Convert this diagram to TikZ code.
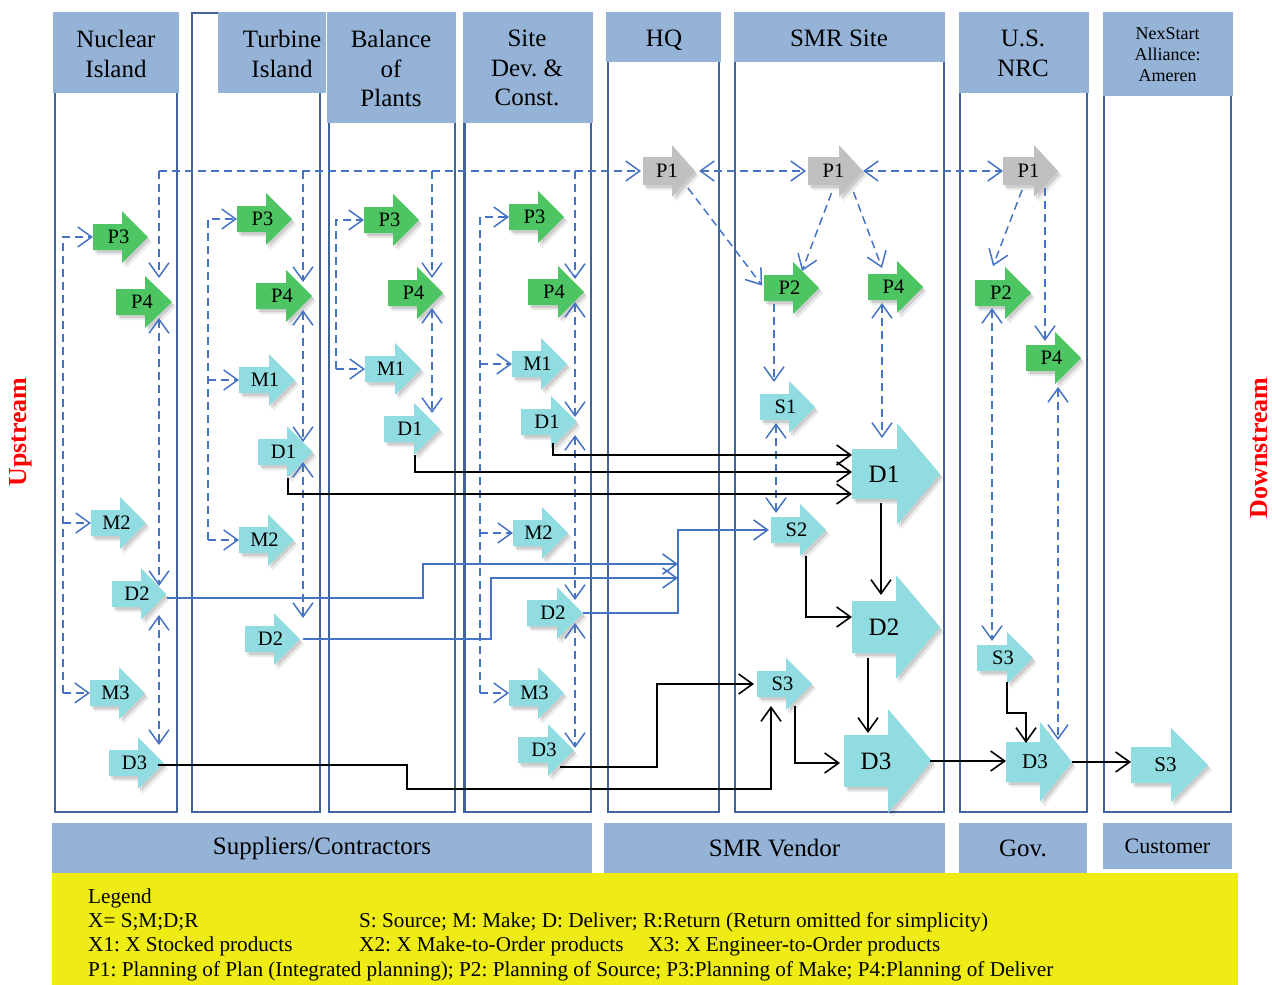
\documentclass[tikz,border=0pt]{standalone}
\usepackage{fontspec}
\setmainfont{Liberation Serif}
\usetikzlibrary{arrows.meta,calc}
\frenchspacing
\definecolor{lanec}{RGB}{65,100,155}
\definecolor{hdrc}{RGB}{149,179,215}
\definecolor{lblue}{RGB}{70,115,195}
\definecolor{agreen}{RGB}{77,197,99}
\definecolor{acyan}{RGB}{145,220,225}
\definecolor{agray}{RGB}{192,192,192}
\definecolor{legy}{RGB}{238,236,20}
\definecolor{ured}{RGB}{255,0,0}
% #1 name, #2 x left, #3 y centre, #4 length, #5 body half height, #6 head half height, #7 head length, #8 class, #9 label
\newcommand\blkarrow[9]{%
 \fill[black,opacity=0.08,shift={(4,5)}] (#2,{#3-#5}) -- ({#2+#4-#7},{#3-#5}) -- ({#2+#4-#7},{#3-#6}) -- ({#2+#4},#3) -- ({#2+#4-#7},{#3+#6}) -- ({#2+#4-#7},{#3+#5}) -- (#2,{#3+#5}) -- cycle;
 \fill[black,opacity=0.12,shift={(2,3)}] (#2,{#3-#5}) -- ({#2+#4-#7},{#3-#5}) -- ({#2+#4-#7},{#3-#6}) -- ({#2+#4},#3) -- ({#2+#4-#7},{#3+#6}) -- ({#2+#4-#7},{#3+#5}) -- (#2,{#3+#5}) -- cycle;
 \fill[#8] (#2,{#3-#5}) -- ({#2+#4-#7},{#3-#5}) -- ({#2+#4-#7},{#3-#6}) -- ({#2+#4},#3) -- ({#2+#4-#7},{#3+#6}) -- ({#2+#4-#7},{#3+#5}) -- (#2,{#3+#5}) -- cycle;
 \node[abox,minimum width=#4,minimum height={2*#6}] (#1) at ({#2+#4/2},#3) {};
 \node[#8 lab] at (#1.center) {#9};
}
\begin{document}
\begin{tikzpicture}[x=1pt,y=-1pt,
  >={Straight Barb[length=14pt,width=20pt]},
  lane/.style={draw=lanec,line width=2.5pt},
  hdr/.style={fill=hdrc,draw=none,inner sep=0pt,outer sep=0pt,anchor=north west},
  htxt/.style={inner sep=0pt,anchor=north,align=center,font=\fontsize{25}{29.5}\selectfont},
  grp/.style={fill=hdrc,draw=none,inner sep=0pt,outer sep=0pt,anchor=north west,font=\fontsize{25}{30}\selectfont},
  abox/.style={rectangle,draw=none,inner sep=0pt,outer sep=0pt},
  ag/.style={fill=agreen}, ag lab/.style={font=\fontsize{20.5}{24}\selectfont,xshift=-2pt},
  ac/.style={fill=acyan}, ac lab/.style={font=\fontsize{20.5}{24}\selectfont,xshift=-2pt},
  ay/.style={fill=agray}, ay lab/.style={font=\fontsize{20.5}{24}\selectfont,xshift=-2pt},
  acb/.style={fill=acyan}, acb lab/.style={font=\fontsize{25}{30}\selectfont,xshift=-12pt},
  acm/.style={fill=acyan}, acm lab/.style={font=\fontsize{21}{25}\selectfont,xshift=-4pt},
  dsh/.style={draw=lblue,line width=1.5pt,dash pattern=on 8pt off 5pt},
  bk/.style={draw=black,line width=1.6pt},
  bl/.style={draw=lblue,line width=1.6pt},
  legt/.style={inner sep=0pt,anchor=base west,font=\fontsize{21.2}{24}\selectfont},
  updn/.style={text=ured,font=\fontsize{26}{30}\selectfont\bfseries,rotate=90,inner sep=0pt}]
\useasboundingbox (0,0) rectangle (1272,985);

% ---------- lanes ----------
\draw[lane] (55,13) rectangle (177,812);
\draw[lane] (192,13) rectangle (320,812);
\draw[lane] (329,13) rectangle (455,812);
\draw[lane] (464.5,13) rectangle (591,812);
\draw[lane] (608,13) rectangle (719,812);
\draw[lane] (735,13) rectangle (944,812);
\draw[lane] (960,13) rectangle (1087,812);
\draw[lane] (1104,13) rectangle (1231,812);

% ---------- headers ----------
\node[hdr,minimum width=126,minimum height=81] (hNuc) at (53,12) {};
\node[hdr,minimum width=108,minimum height=81] (hTur) at (218,12) {};
\node[hdr,minimum width=129,minimum height=111] (hBal) at (327,12) {};
\node[hdr,minimum width=130,minimum height=111] (hSite) at (463,12) {};
\node[hdr,minimum width=115,minimum height=50] (hHQ) at (606,12) {};
\node[hdr,minimum width=211,minimum height=50] (hSMR) at (734,12) {};
\node[hdr,minimum width=130,minimum height=81] (hNRC) at (959,12) {};
\node[hdr,minimum width=130,minimum height=84] (hNex) at (1103,12) {};
\node[htxt] (tNuc) at (116,30) {Nuclear\\Island};
\node[htxt] (tTur) at (282,30) {Turbine\\Island};
\node[htxt] (tBal) at (391,30) {Balance\\of\\Plants};
\node[htxt] (tSite) at (527,30) {Site\\Dev. \&\\Const.};
\node[htxt] (tHQ) at (664,30) {HQ};
\node[htxt] (tSMR) at (839,30) {SMR Site};
\node[htxt] (tNRC) at (1023,30) {U.S.\\NRC};
\node[htxt,font=\fontsize{18}{21}\selectfont] (tNex) at (1167.5,27) {NexStart\\Alliance:\\Ameren};

% ---------- group labels ----------
\node[grp,minimum width=540,minimum height=50] (gSup) at (52,823) {Suppliers/Contractors};
\node[grp,minimum width=341,minimum height=50] (gVen) at (604,823) {SMR Vendor};
\node[grp,minimum width=128,minimum height=50] (gGov) at (959,823) {Gov.};
\node[grp,minimum width=129,minimum height=46,font=\fontsize{22}{26}\selectfont] (gCus) at (1103,823) {Customer};

% ---------- legend ----------
\node[fill=legy,draw=none,inner sep=0pt,anchor=north west,minimum width=1186,minimum height=112] (leg) at (52,873) {};
\node[legt] (l1) at (88,903) {Legend};
\node[legt] (l2) at (88,927.5) {X= S;M;D;R};
\node[legt] (l2b) at (359,927.5) {S: Source; M: Make; D: Deliver; R:Return (Return omitted for simplicity)};
\node[legt] (l3) at (88,951.8) {X1: X Stocked products};
\node[legt] (l3b) at (359,951.8) {X2: X Make-to-Order products};
\node[legt] (l3c) at (648,951.8) {X3: X Engineer-to-Order products};
\node[legt] (l4) at (88,976) {P1: Planning of Plan (Integrated planning); P2: Planning of Source; P3:Planning of Make; P4:Planning of Deliver};

% ---------- side labels ----------
\node[updn] (up) at (21,432) {Upstream};
\node[updn] (down) at (1259,448) {Downstream};

% ---------- block arrows ----------
\blkarrow{nP3}{93}{237}{55}{13}{26}{26}{ag}{P3}
\blkarrow{nP4}{116}{302}{56}{13}{26}{27}{ag}{P4}
\blkarrow{nM2}{91}{523}{55}{13}{26}{26}{ac}{M2}
\blkarrow{nD2}{112}{594}{54}{13}{26}{25}{ac}{D2}
\blkarrow{nM3}{90}{693}{55}{13}{26}{26}{ac}{M3}
\blkarrow{nD3}{109}{763}{55}{13}{26}{26}{ac}{D3}
\blkarrow{tP3}{237}{219}{55}{13}{26}{26}{ag}{P3}
\blkarrow{tP4}{256}{296}{56}{13}{26}{26}{ag}{P4}
\blkarrow{tM1}{239}{380}{56}{13}{26}{26}{ac}{M1}
\blkarrow{tD1}{258}{452}{55}{13}{26}{26}{ac}{D1}
\blkarrow{tM2}{239}{540}{55}{13}{26}{26}{ac}{M2}
\blkarrow{tD2}{245}{639}{55}{13}{26}{26}{ac}{D2}
\blkarrow{bP3}{364}{220}{55}{13}{26}{26}{ag}{P3}
\blkarrow{bP4}{388}{293}{55}{13}{26}{26}{ag}{P4}
\blkarrow{bM1}{365}{369}{56}{13}{26}{26}{ac}{M1}
\blkarrow{bD1}{384}{429}{56}{13}{26}{26}{ac}{D1}
\blkarrow{sP3}{509}{217}{55}{13}{26}{26}{ag}{P3}
\blkarrow{sP4}{528}{292}{56}{13}{26}{26}{ag}{P4}
\blkarrow{sM1}{512}{364}{55}{13}{26}{26}{ac}{M1}
\blkarrow{sD1}{521}{422}{56}{13}{26}{26}{ac}{D1}
\blkarrow{sM2}{513}{533}{55}{13}{26}{26}{ac}{M2}
\blkarrow{sD2}{527}{613}{56}{13}{26}{26}{ac}{D2}
\blkarrow{sM3}{509}{693}{55}{13}{26}{26}{ac}{M3}
\blkarrow{sD3}{518}{750}{56}{13}{26}{26}{ac}{D3}
\blkarrow{hP1}{643}{171}{52}{14}{26}{23}{ay}{P1}
\blkarrow{mP1}{808}{171}{55}{14}{26}{24}{ay}{P1}
\blkarrow{mP2}{764}{288}{55}{13}{26}{26}{ag}{P2}
\blkarrow{mP4}{868}{287}{55}{13}{26}{26}{ag}{P4}
\blkarrow{mS1}{760}{407}{55}{13}{26}{26}{ac}{S1}
\blkarrow{mD1}{852}{474}{88}{25}{51}{43}{acb}{D1}
\blkarrow{mS2}{771}{530}{55}{13}{26}{26}{ac}{S2}
\blkarrow{mD2}{852}{627}{88}{26}{52}{44}{acb}{D2}
\blkarrow{mS3}{757}{684}{55}{13}{26}{26}{ac}{S3}
\blkarrow{mD3}{844}{761}{88}{26}{52}{44}{acb}{D3}
\blkarrow{gP1}{1003}{171}{55}{14}{26}{24}{ay}{P1}
\blkarrow{gP2}{975}{293}{56}{13}{26}{26}{ag}{P2}
\blkarrow{gP4}{1026}{358}{55}{13}{26}{26}{ag}{P4}
\blkarrow{gS3}{977}{658}{56}{13}{26}{26}{ac}{S3}
\blkarrow{gD3}{1006}{762}{66}{20}{40}{32}{acm}{D3}
\blkarrow{cS3}{1131}{765}{77}{18}{37}{37}{acm}{S3}

% ---------- dashed planning links ----------
\coordinate (vN) at (159,171);
\coordinate (vT) at (303,171);
\coordinate (vB) at (432,171);
\coordinate (vS) at (575,171);
\coordinate (lN) at (63,0);
\coordinate (lT) at (208,0);
\coordinate (lB) at (336,0);
\coordinate (lS) at (480,0);

\draw[dsh,->,shorten >=2pt] (vN) -- (hP1.west);
\draw[dsh,->,shorten >=24pt] (vN) -- (vN |- nP4.east);
\draw[dsh,<->,shorten <=16pt,shorten >=8pt] (vN |- nP4.east) -- (vN |- nD2.east);
\draw[dsh,<->,shorten <=21pt,shorten >=18pt] (vN |- nD2.east) -- (vN |- nD3.east);
\draw[dsh,->,shorten >=14pt] (vT) -- (vT |- tP4.east);
\draw[dsh,<->,shorten <=14pt,shorten >=10pt] (vT |- tP4.east) -- (vT |- tD1.east);
\draw[dsh,<->,shorten <=10pt,shorten >=21pt] (vT |- tD1.east) -- (vT |- tD2.east);
\draw[dsh,->,shorten >=15pt] (vB) -- (vB |- bP4.east);
\draw[dsh,<->,shorten <=15pt,shorten >=16pt] (vB |- bP4.east) -- (vB |- bD1.east);
\draw[dsh,->,shorten >=13pt] (vS) -- (vS |- sP4.east);
\draw[dsh,<->,shorten <=10pt,shorten >=5pt] (vS |- sP4.east) -- (vS |- sD1.east);
\draw[dsh,<->,shorten <=13pt,shorten >=13pt] (vS |- sD1.east) -- (vS |- sD2.east);
\draw[dsh,<->,shorten <=10pt,shorten >=2pt] (vS |- sD2.east) -- (vS |- sD3.east);

\draw[dsh,->] (lN |- nM3.west) -- (lN |- nP3.west) -- (nP3.west);
\draw[dsh,->] (lN |- nM2.west) -- (nM2.west);
\draw[dsh,->] (lN |- nM3.west) -- (nM3.west);
\draw[dsh,->] (lT |- tM2.west) -- (lT |- tP3.west) -- (tP3.west);
\draw[dsh,->] (lT |- tM1.west) -- (tM1.west);
\draw[dsh,->] (lT |- tM2.west) -- (tM2.west);
\draw[dsh,->] (lB |- bM1.west) -- (lB |- bP3.west) -- (bP3.west);
\draw[dsh,->] (lB |- bM1.west) -- (bM1.west);
\draw[dsh,->] (lS |- sM3.west) -- (lS |- sP3.west) -- (sP3.west);
\draw[dsh,->] (lS |- sM1.west) -- (sM1.west);
\draw[dsh,->] (lS |- sM2.west) -- (sM2.west);
\draw[dsh,->] (lS |- sM3.west) -- (sM3.west);

\draw[dsh,<->,shorten <=4pt,shorten >=2pt] (hP1.east) -- (mP1.west);
\draw[dsh,<->] (mP1.east) -- (gP1.west);
\draw[dsh,->,shorten >=3pt] ($(hP1.east)+(-7,17)$) -- (mP2.west);
\draw[dsh,->] ($(mP1.south)+(-4,-4)$) -- ($(mP2.north east)+(-17,9)$);
\draw[dsh,->] ($(mP1.south)+(18,-5)$) -- ($(mP4.north west)+(14,7)$);
\draw[dsh,->] ($(mP2.south west)+(10,-10)$) -- ($(mS1.north west)+(14,1)$);
\draw[dsh,<->] ($(mS1.south west)+(16,-10)$) -- ($(mS2.north west)+(5,9)$);
\draw[dsh,<->] ($(mP4.south west)+(14,-10)$) -- ($(mD1.north west)+(30,15)$);
\draw[dsh,->] ($(gP1.south)+(-8.5,-7)$) -- ($(gP2.north west)+(18,-1)$);
\draw[dsh,->] ($(gP1.south west)+(42,-9)$) -- ($(gP4.north west)+(19,9)$);
\draw[dsh,<->] ($(gP2.south west)+(17,-11)$) -- ($(gS3.north west)+(15,9)$);
\draw[dsh,<->] ($(gP4.south west)+(32,3)$) -- ($(gD3.north west)+(52,18)$);

% ---------- material flow (black) ----------
\draw[bk,->] ($(tD1.south west)+(30,0)$) |- ($(mD1.west)+(0,20)$);
\draw[bk,->] ($(bD1.south west)+(31,0)$) |- ($(mD1.west)+(0,-2)$);
\draw[bk,->] ($(sD1.south west)+(32,-5)$) |- ($(mD1.west)+(0,-19)$);
\draw[bk,->] ($(mD1.south west)+(29,-22)$) -- ($(mD2.north west)+(29,20)$);
\draw[bk,->] ($(mS2.south west)+(35,0)$) |- ($(mD2.west)+(0,-10)$);
\draw[bk,->] ($(mD2.south west)+(16,-21)$) -- ($(mD3.north west)+(24,24)$);
\draw[bk,->,shorten >=4pt] ($(mS3.south west)+(38,-4)$) |- ($(mD3.west)+(0,2)$);
\draw[bk,->] ($(mD3.east)+(-2,0)$) -- (mD3.east -| gD3.west);
\draw[bk,->] ($(gS3.south west)+(30,-2)$) |- ($(gD3.north west)+(20,-9)$) -- ($(gD3.north west)+(20,21)$);
\draw[bk,->] (gD3.east) -- (gD3.east -| cS3.west);
\draw[bk,->,shorten >=3pt] ($(sD3.south west)+(42,-9)$) -- ++(97,0) |- (mS3.west);
\draw[bk,->] ($(nD3.east)+(-6,2)$) -- ++(249,0) -- ++(0,24) -| ($(mS3.south west)+(14,-4)$);

% ---------- information flow (blue) ----------
\coordinate (jA) at (678,564);
\coordinate (jB) at (678,578);
\draw[bl,->] ($(nD2.east)+(1,4)$) -- ++(256,0) |- (jA);
\draw[bl,->] ($(tD2.east)+(3,0)$) -- ++(188,0) |- (jB);
\draw[bl,->,shorten >=2pt] (sD2.east) -| ($(mS2.west)+(-93,0)$) -- (mS2.west);
\end{tikzpicture}
\end{document}
